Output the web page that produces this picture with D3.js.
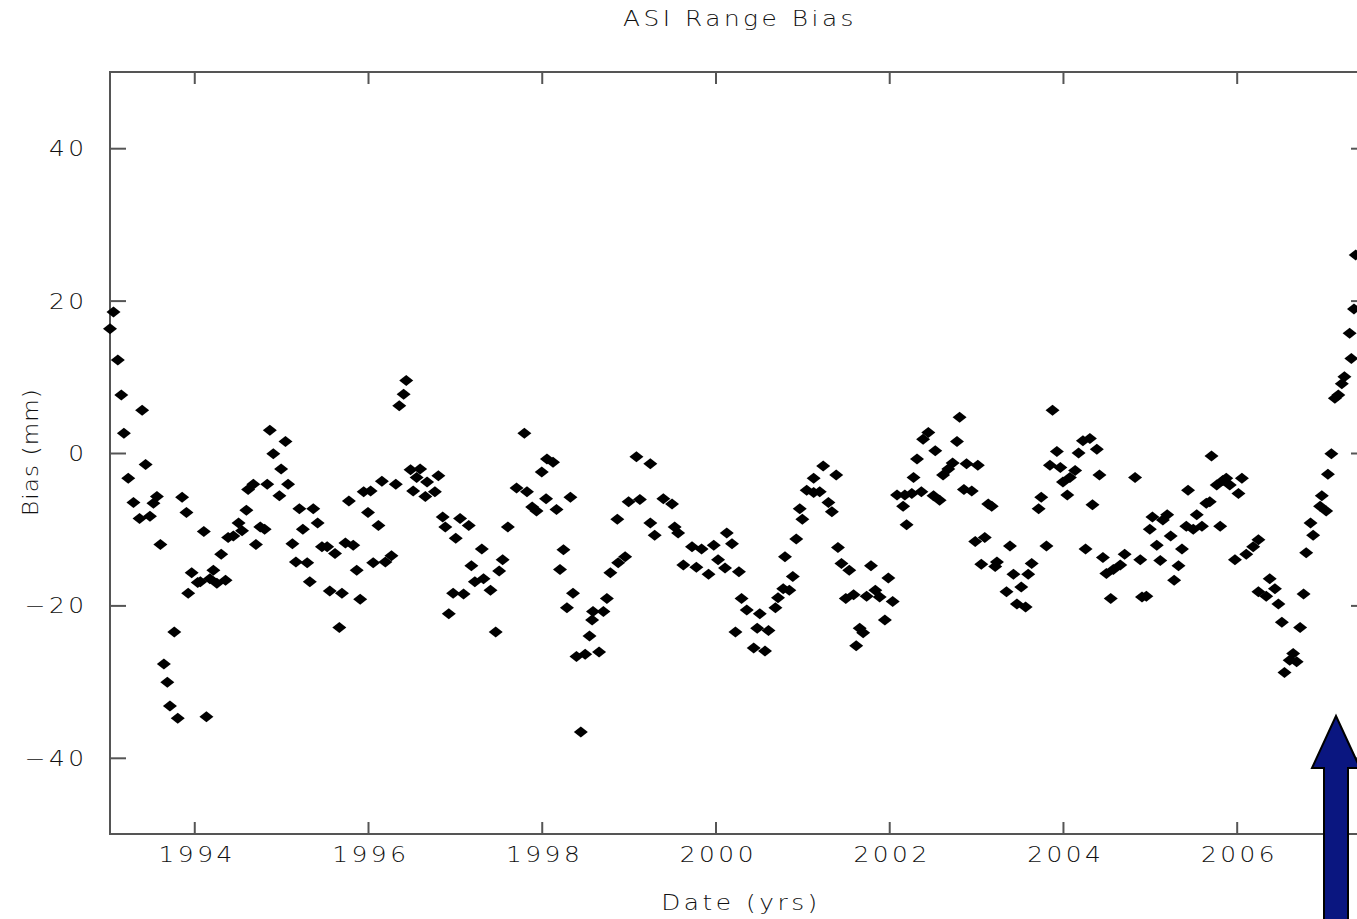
<!DOCTYPE html>
<html>
<head>
<meta charset="utf-8">
<script src="https://cdn.jsdelivr.net/npm/d3@7"></script>
<style>
  body { margin: 0; background: #fff; overflow: hidden; }
  text { font-family: "DejaVu Sans", sans-serif; font-weight: 200; fill: #111; }
</style>
</head>
<body>
<svg id="chart" width="1357" height="919"></svg>
<script>
// ASI range bias (mm) vs decimal year
const years = [
  1993.03,1993.07,1993.12,1993.16,1993.19,1993.24,1993.30,1993.37,1993.40,1993.44,
  1993.49,1993.53,1993.57,1993.61,1993.65,1993.69,1993.72,1993.77,1993.81,1993.86,
  1993.91,1993.93,1993.97,1994.04,1994.07,1994.11,1994.14,1994.18,1994.22,1994.26,
  1994.31,1994.36,1994.39,1994.45,1994.51,1994.55,1994.60,1994.62,1994.68,1994.71,
  1994.76,1994.81,1994.84,1994.87,1994.91,1994.98,1995.00,1995.05,1995.08,1995.13,
  1995.17,1995.21,1995.25,1995.30,1995.33,1995.37,1995.42,1995.47,1995.53,1995.56,
  1995.62,1995.67,1995.70,1995.74,1995.78,1995.83,1995.87,1995.91,1995.95,1996.00,
  1996.03,1996.06,1996.12,1996.16,1996.20,1996.27,1996.32,1996.36,1996.41,1996.44,
  1996.49,1996.52,1996.56,1996.60,1996.66,1996.68,1996.77,1996.81,1996.86,1996.89,
  1996.93,1996.98,1997.01,1997.06,1997.10,1997.16,1997.19,1997.23,1997.31,1997.33,
  1997.41,1997.47,1997.51,1997.55,1997.61,1997.71,1997.80,1997.83,1997.89,1997.94,
  1998.00,1998.05,1998.06,1998.13,1998.17,1998.21,1998.25,1998.29,1998.33,1998.36,
  1998.40,1998.45,1998.50,1998.55,1998.58,1998.59,1998.66,1998.71,1998.75,1998.79,
  1998.87,1998.88,1998.96,1999.00,1999.09,1999.13,1999.25,1999.25,1999.30,1999.40,
  1999.50,1999.53,1999.57,1999.63,1999.73,1999.78,1999.84,1999.92,1999.98,2000.03,
  2000.11,2000.13,2000.19,2000.23,2000.27,2000.30,2000.36,2000.44,2000.48,2000.51,
  2000.57,2000.61,2000.69,2000.72,2000.78,2000.80,2000.85,2000.89,2000.93,2000.97,
  2001.00,2001.05,2001.13,2001.13,2001.20,2001.24,2001.30,2001.34,2001.39,2001.41,
  2001.45,2001.50,2001.54,2001.59,2001.62,2001.66,2001.70,2001.74,2001.79,2001.84,
  2001.89,2001.95,2001.99,2002.04,2002.09,2002.16,2002.18,2002.20,2002.26,2002.28,
  2002.32,2002.37,2002.39,2002.45,2002.51,2002.53,2002.58,2002.62,2002.68,2002.73,
  2002.78,2002.81,2002.86,2002.89,2002.95,2002.99,2003.02,2003.06,2003.10,2003.14,
  2003.18,2003.22,2003.24,2003.35,2003.39,2003.43,2003.47,2003.52,2003.57,2003.60,
  2003.64,2003.72,2003.75,2003.81,2003.85,2003.88,2003.93,2003.97,2004.00,2004.05,
  2004.08,2004.14,2004.18,2004.23,2004.26,2004.31,2004.34,2004.39,2004.42,2004.46,
  2004.50,2004.55,2004.58,2004.66,2004.71,2004.83,2004.89,2004.91,2004.96,2005.00,
  2005.03,2005.08,2005.12,2005.15,2005.20,2005.24,2005.28,2005.33,2005.37,2005.42,
  2005.44,2005.50,2005.54,2005.60,2005.65,2005.69,2005.71,2005.77,2005.81,2005.84,
  2005.88,2005.92,2005.98,2006.02,2006.06,2006.11,2006.19,2006.25,2006.25,2006.34,
  2006.38,2006.44,2006.48,2006.52,2006.55,2006.61,2006.65,2006.69,2006.73,2006.77,
  2006.80,2006.85,2006.88,2006.96,2006.98,2007.03,2007.05,2007.09,2007.13,2007.17,
  2007.21,2007.24,2007.30,2007.32,2007.35,2007.37
];
const bias = [
  16.3,18.5,12.2,7.6,2.6,-3.3,-6.5,-8.6,5.6,-1.5,
  -8.3,-6.6,-5.7,-12.0,-27.7,-30.1,-33.2,-23.5,-34.8,-5.8,
  -7.8,-18.4,-15.7,-17.0,-16.9,-10.3,-34.6,-16.5,-15.4,-17.1,
  -13.3,-16.7,-11.1,-10.9,-9.2,-10.2,-7.5,-4.8,-4.1,-12.0,
  -9.7,-10.0,-4.1,3.0,-0.1,-5.6,-2.1,1.5,-4.1,-11.9,
  -14.3,-7.3,-10.0,-14.4,-16.9,-7.3,-9.2,-12.3,-12.3,-18.1,
  -13.2,-22.9,-18.4,-11.8,-6.3,-12.1,-15.4,-19.2,-5.1,-7.8,
  -5.0,-14.4,-9.5,-3.7,-14.3,-13.5,-4.1,6.2,7.7,9.5,
  -2.2,-5.0,-3.2,-2.1,-5.7,-3.8,-5.1,-3.0,-8.4,-9.7,
  -21.1,-18.4,-11.2,-8.6,-18.5,-9.5,-14.8,-16.9,-12.6,-16.5,
  -18.0,-23.5,-15.5,-14.0,-9.7,-4.6,2.6,-5.1,-7.1,-7.6,
  -2.5,-6.0,-0.8,-1.2,-7.4,-15.3,-12.7,-20.3,-5.8,-18.4,
  -26.7,-36.6,-26.4,-24.0,-21.9,-20.8,-26.1,-20.8,-19.1,-15.7,
  -8.7,-14.4,-13.6,-6.4,-0.5,-6.1,-1.4,-9.2,-10.8,-6.0,
  -6.7,-9.7,-10.5,-14.7,-12.3,-15.0,-12.6,-15.9,-12.1,-14.0,
  -15.1,-10.5,-11.9,-23.5,-15.6,-19.1,-20.6,-25.6,-23.0,-21.1,
  -26.0,-23.3,-20.3,-19.0,-17.8,-13.6,-18.0,-16.2,-11.3,-7.3,
  -8.7,-4.9,-5.2,-3.3,-5.1,-1.7,-6.5,-7.7,-2.9,-12.4,
  -14.5,-19.1,-15.4,-18.6,-25.3,-23.0,-23.6,-18.8,-14.8,-18.0,
  -18.9,-21.9,-16.4,-19.5,-5.5,-7.0,-5.5,-9.4,-5.3,-3.2,
  -0.8,-5.1,1.8,2.7,-5.6,0.3,-6.2,-2.9,-2.1,-1.3,
  1.5,4.7,-4.8,-1.4,-5.0,-11.6,-1.6,-14.6,-11.1,-6.7,
  -7.0,-14.9,-14.3,-18.2,-12.2,-15.9,-19.8,-17.6,-20.2,-15.9,
  -14.5,-7.3,-5.8,-12.2,-1.6,5.6,0.2,-1.9,-3.8,-5.5,
  -3.2,-2.3,0.0,1.6,-12.6,1.9,-6.8,0.5,-2.9,-13.7,
  -15.8,-19.1,-15.3,-14.7,-13.3,-3.2,-14.0,-18.9,-18.8,-10.0,
  -8.4,-12.1,-14.1,-8.8,-8.1,-10.9,-16.7,-14.8,-12.6,-9.6,
  -4.9,-10.0,-8.1,-9.6,-6.6,-6.4,-0.4,-4.2,-9.6,-3.6,
  -3.3,-4.2,-14.0,-5.3,-3.3,-13.3,-12.3,-11.4,-18.2,-18.8,
  -16.5,-17.8,-19.8,-22.2,-28.8,-27.2,-26.3,-27.4,-22.9,-18.5,
  -13.1,-9.2,-10.8,-7.0,-5.6,-7.6,-2.8,-0.1,7.2,7.6,
  9.1,10.0,15.7,12.4,18.9,26.0
];
const xTicks = [1994, 1996, 1998, 2000, 2002, 2004, 2006];
const yTicks = [-40, -20, 0, 20, 40];

const svg = d3.select("#chart");
const plotLeft = 110, plotRight = 1367, plotTop = 72, plotBottom = 834;
const axisColor = "#555";
const stretch = "scale(1.18,1)";

const x = d3.scaleLinear().domain([1993.03, 2007.5]).range([plotLeft, plotRight]);
const y = d3.scaleLinear().domain([-50, 50]).range([plotBottom, plotTop]);

// frame (right edge falls outside the picture)
svg.append("rect")
   .attr("x", plotLeft).attr("y", plotTop)
   .attr("width", plotRight - plotLeft).attr("height", plotBottom - plotTop)
   .attr("fill", "none").attr("stroke", axisColor).attr("stroke-width", 2);

// bottom axis: inward ticks, labels below
const xb = svg.append("g").attr("transform", `translate(0,${plotBottom})`)
   .call(d3.axisBottom(x).tickValues(xTicks).tickSize(-12).tickPadding(15).tickFormat(d3.format("d")));
// top axis: inward ticks only
const xt = svg.append("g").attr("transform", `translate(0,${plotTop})`)
   .call(d3.axisTop(x).tickValues(xTicks).tickSize(-12).tickFormat(""));
// left axis
const yl = svg.append("g").attr("transform", `translate(${plotLeft},0)`)
   .call(d3.axisLeft(y).tickValues(yTicks).tickSize(-16).tickPadding(19)
     .tickFormat(d => d < 0 ? "\u2212" + Math.abs(d) : d));
// right axis
const yr = svg.append("g").attr("transform", `translate(${plotRight},0)`)
   .call(d3.axisRight(y).tickValues(yTicks).tickSize(-16).tickFormat(""));

[xb, xt, yl, yr].forEach(g => {
  g.select(".domain").remove();
  g.selectAll(".tick line").attr("stroke", axisColor).attr("stroke-width", 2);
  g.selectAll(".tick text")
   .attr("font-size", 21).attr("fill", "#111")
   .style("letter-spacing", "3px");
});
xb.selectAll(".tick text").attr("dx", "2px").attr("dy", "0.6em").attr("transform", stretch);
yl.selectAll(".tick text").attr("dy", "0.36em").attr("transform", stretch);

// points
const diamond = "M-7,0L0,-5.5L7,0L0,5.5Z";
svg.append("g")
   .selectAll("path")
   .data(years.map((t, i) => [t, bias[i]]))
   .join("path")
   .attr("d", diamond)
   .attr("transform", d => `translate(${x(d[0])},${y(d[1])})`)
   .attr("fill", "#000");

// titles
svg.append("text").attr("transform", `translate(740,26) ${stretch}`).attr("text-anchor", "middle")
   .attr("font-size", 21).style("letter-spacing", "3px").text("ASI Range Bias");
svg.append("text").attr("transform", `translate(741,910) ${stretch}`).attr("text-anchor", "middle")
   .attr("font-size", 21).style("letter-spacing", "3px").text("Date (yrs)");
svg.append("text")
   .attr("transform", "translate(38,452) rotate(-90) scale(1.1,1)")
   .attr("text-anchor", "middle")
   .attr("font-size", 21).style("letter-spacing", "1px").text("Bias (mm)");

// annotation arrow pointing up at the 2007 rise
svg.append("path")
   .attr("d", "M1336,716 L1360,768 L1348,768 L1348,925 L1324,925 L1324,768 L1312,768 Z")
   .attr("fill", "#0a1680").attr("stroke", "#000").attr("stroke-width", 2);
</script>
</body>
</html>
